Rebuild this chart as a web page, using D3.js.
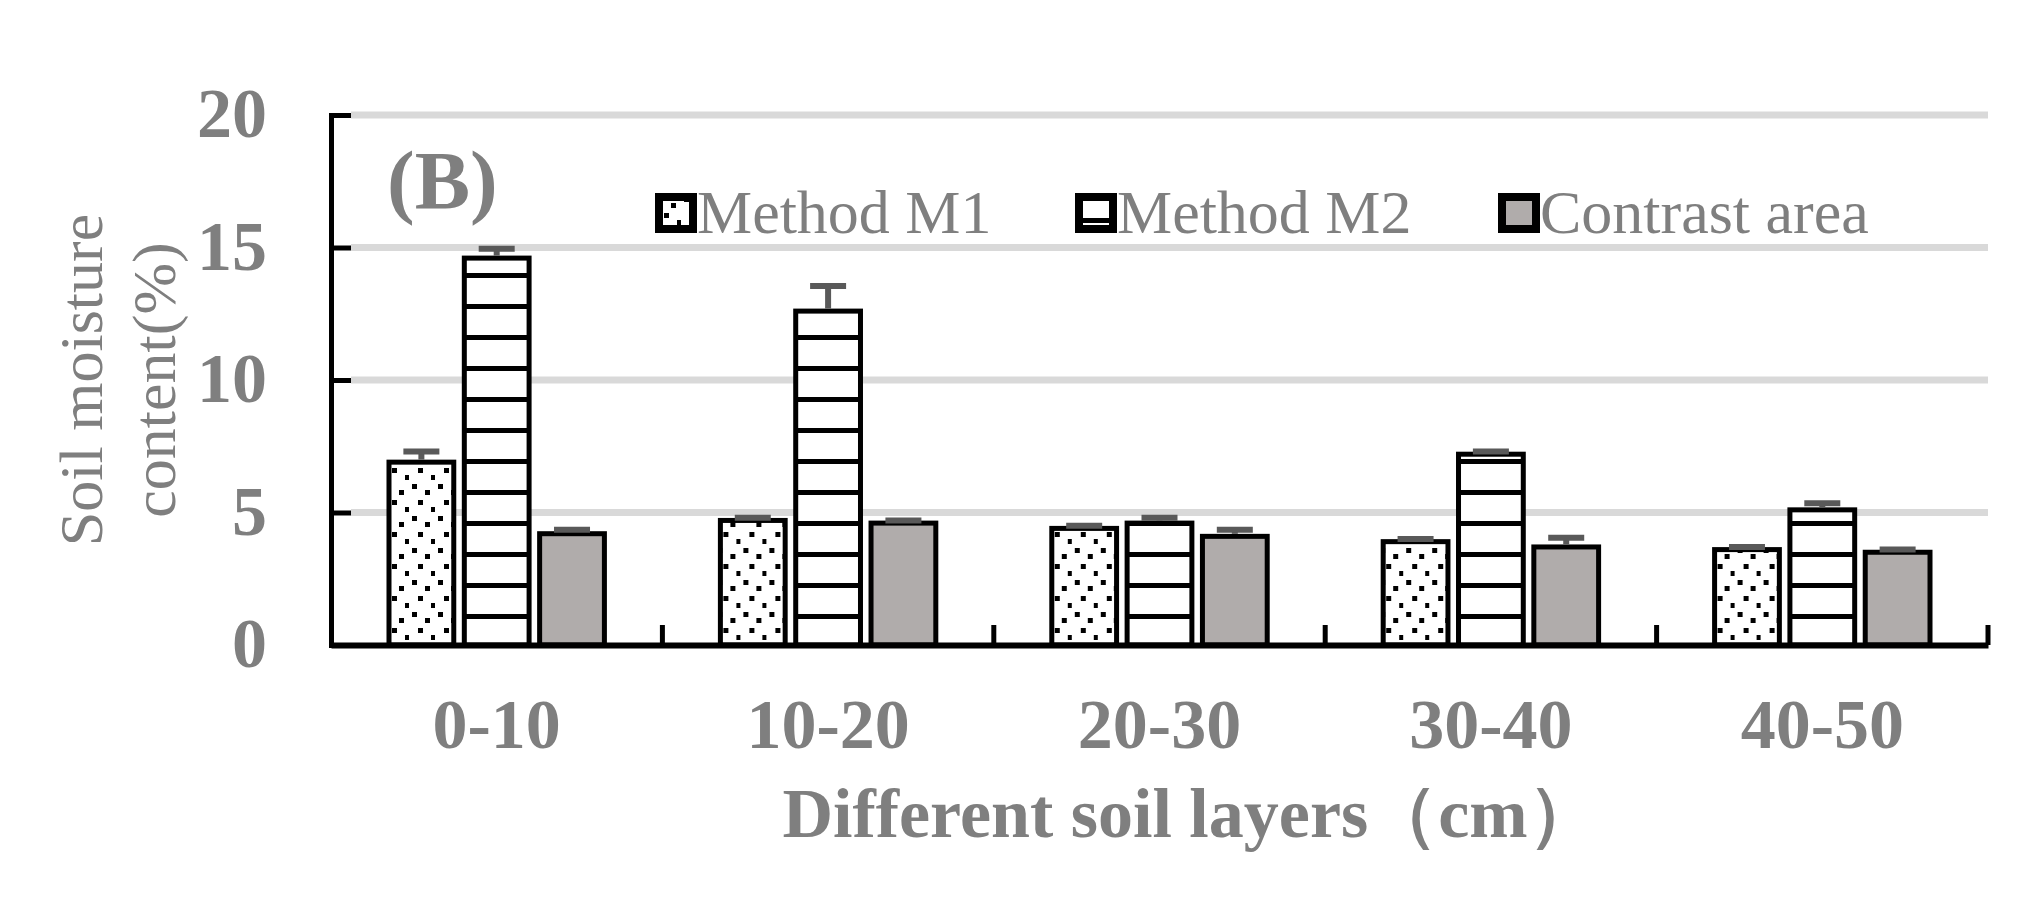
<!DOCTYPE html>
<html>
<head>
<meta charset="utf-8">
<script src="https://cdn.jsdelivr.net/npm/d3@7"></script>
<style>
  body { margin: 0; background: #fff; }
  text { font-family: "Liberation Serif", "Times New Roman", serif; fill: #7f7f7f; }
</style>
</head>
<body>
<svg id="chart"></svg>
<script>
const layers = ["0-10", "10-20", "20-30", "30-40", "40-50"];
const seriesNames = ["Method M1", "Method M2", "Contrast area"];
const m1 = [6.9, 4.7, 4.4, 3.9, 3.6];
const m2 = [14.6, 12.6, 4.6, 7.2, 5.1];
const contrast = [4.2, 4.6, 4.1, 3.7, 3.5];
const m1Err = [0.4, 0.1, 0.1, 0.1, 0.1];
const m2Err = [0.35, 0.95, 0.2, 0.1, 0.25];
const contrastErr = [0.15, 0.1, 0.25, 0.35, 0.1];
const yTicks = [0, 5, 10, 15, 20];

const width = 2041, height = 901;
const margin = { top: 115, right: 53, bottom: 256, left: 331 };

const svg = d3.select("#chart").attr("width", width).attr("height", height);

// patterns
const defs = svg.append("defs");
const dots = defs.append("pattern").attr("id", "dots")
  .attr("patternUnits", "userSpaceOnUse").attr("width", 26).attr("height", 32);
dots.append("rect").attr("width", 26).attr("height", 32).attr("fill", "#fff");
[[3, 4], [16, 10], [9, 20], [22, 27]].forEach(([x, y]) =>
  dots.append("rect").attr("x", x).attr("y", y).attr("width", 5).attr("height", 5).attr("fill", "#000"));
const stripes = defs.append("pattern").attr("id", "stripes")
  .attr("patternUnits", "userSpaceOnUse").attr("width", 10).attr("height", 31)
  .attr("y", 645);
stripes.append("rect").attr("width", 10).attr("height", 31).attr("fill", "#fff");
stripes.append("rect").attr("y", 0).attr("width", 10).attr("height", 5).attr("fill", "#000");

const fills = ["url(#dots)", "url(#stripes)", "#b0acab"];
const series = [
  { name: seriesNames[0], values: m1, err: m1Err },
  { name: seriesNames[1], values: m2, err: m2Err },
  { name: seriesNames[2], values: contrast, err: contrastErr }
];

const x = d3.scaleBand().domain(layers).range([margin.left, width - margin.right]).padding(0);
const xs = d3.scaleBand().domain(d3.range(3)).range([x.bandwidth() * 0.175, x.bandwidth() * 0.825]).paddingInner(0.14);
const y = d3.scaleLinear().domain([0, 20]).range([height - margin.bottom, margin.top]);

// gridlines
svg.append("g").selectAll("line").data(yTicks.filter(d => d > 0)).join("line")
  .attr("x1", margin.left + 20).attr("x2", width - margin.right)
  .attr("y1", d => y(d)).attr("y2", d => y(d))
  .attr("stroke", "#d9d9d9").attr("stroke-width", 7);

// bars
const groups = svg.append("g").selectAll("g").data(layers).join("g")
  .attr("transform", d => `translate(${x(d)},0)`);
series.forEach((s, si) => {
  groups.append("rect")
    .attr("x", xs(si)).attr("width", xs.bandwidth())
    .attr("y", (d, i) => y(s.values[i]))
    .attr("height", (d, i) => y(0) - y(s.values[i]))
    .attr("fill", fills[si]).attr("stroke", "#000").attr("stroke-width", 5);
  // error bars (upper only)
  groups.append("line")
    .attr("x1", xs(si) + xs.bandwidth() / 2).attr("x2", xs(si) + xs.bandwidth() / 2)
    .attr("y1", (d, i) => y(s.values[i]) - 2.5)
    .attr("y2", (d, i) => y(s.values[i] + s.err[i]))
    .attr("stroke", "#595959").attr("stroke-width", 6);
  groups.append("line")
    .attr("x1", xs(si) + xs.bandwidth() / 2 - 18).attr("x2", xs(si) + xs.bandwidth() / 2 + 18)
    .attr("y1", (d, i) => y(s.values[i] + s.err[i]))
    .attr("y2", (d, i) => y(s.values[i] + s.err[i]))
    .attr("stroke", "#595959").attr("stroke-width", 6);
});

// y axis
const yAxis = svg.append("g").attr("transform", `translate(${margin.left},0)`)
  .call(d3.axisRight(y).tickValues(yTicks).tickSize(20).tickFormat(""));
yAxis.select(".domain").attr("stroke", "#000").attr("stroke-width", 5);
yAxis.selectAll(".tick line").attr("stroke", "#000").attr("stroke-width", 5);
svg.append("g").selectAll("text").data(yTicks).join("text")
  .attr("x", 267).attr("y", d => y(d) + 22)
  .attr("text-anchor", "end").attr("font-size", 70).attr("font-weight", "bold")
  .text(d => d);

// x axis
const xAxis = svg.append("g").attr("transform", `translate(0,${y(0)})`)
  .call(d3.axisBottom(x).tickSize(0).tickFormat(""));
xAxis.select(".domain").attr("stroke", "#000").attr("stroke-width", 6);
svg.append("g").selectAll("line").data(layers.slice(1).concat(["end"])).join("line")
  .attr("x1", (d, i) => margin.left + (i + 1) * x.step())
  .attr("x2", (d, i) => margin.left + (i + 1) * x.step())
  .attr("y1", y(0)).attr("y2", y(0) - 20)
  .attr("stroke", "#000").attr("stroke-width", 5);
svg.append("g").selectAll("text").data(layers).join("text")
  .attr("x", d => x(d) + x.bandwidth() / 2).attr("y", 748)
  .attr("text-anchor", "middle").attr("font-size", 70).attr("font-weight", "bold")
  .text(d => d);

// axis titles
svg.append("text").attr("x", 1190).attr("y", 837)
  .attr("text-anchor", "middle").attr("font-size", 70).attr("font-weight", "bold")
  .text("Different soil layers（cm）");
const yTitle = svg.append("text").attr("transform", `translate(0,${(y(0) + y(20)) / 2}) rotate(-90)`)
  .attr("text-anchor", "middle").attr("font-size", 62);
yTitle.append("tspan").attr("x", 0).attr("y", 102).text("Soil moisture");
yTitle.append("tspan").attr("x", 0).attr("y", 175).text("content(%)");

// panel label
svg.append("text").attr("x", 387).attr("y", 208)
  .attr("font-size", 83).attr("font-weight", "bold").text("(B)");

// legend
const legendX = [655, 1075, 1498];
const legend = svg.append("g").selectAll("g").data(series).join("g")
  .attr("transform", (d, i) => `translate(${legendX[i]},193)`);
legend.append("rect").attr("x", 4).attr("y", 4).attr("width", 34).attr("height", 32)
  .attr("fill", (d, i) => fills[i]).attr("stroke", "#000").attr("stroke-width", 8);
legend.append("text").attr("x", 42).attr("y", 40).attr("font-size", 62).text(d => d.name);
</script>
</body>
</html>
